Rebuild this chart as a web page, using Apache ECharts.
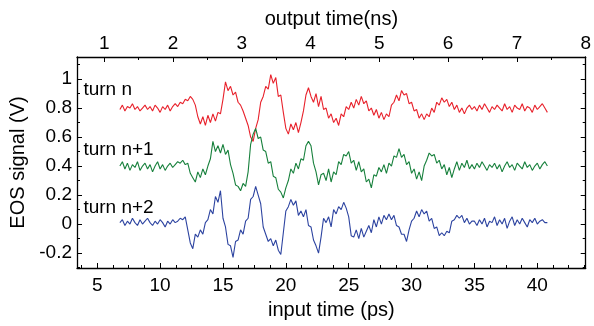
<!DOCTYPE html>
<html>
<head>
<meta charset="utf-8">
<script src="https://cdn.jsdelivr.net/npm/echarts@6/dist/echarts.min.js"></script>
<style>html,body{margin:0;padding:0;background:#fff}#c{width:594px;height:326px}</style>
</head>
<body>
<div id="c"></div>
<script>
// sampling grid of the traces (ps)
const tStart = 6.8;
const tStep = 0.2;

// turn n (V), from 6.8 ps to 40.8 ps
const turnN = [
  0.79,0.82,0.78,0.81,0.80,0.83,0.79,0.81,0.78,0.80,0.82,0.79,0.81,0.78,0.82,0.80,0.77,0.81,0.79,0.82,0.78,0.81,
  0.83,0.81,0.84,0.83,
  0.86,0.85,0.88,0.86,0.82,
  0.74,0.69,0.74,0.68,0.75,0.70,0.76,0.71,0.77,0.76,
  0.86,0.98,0.92,0.95,0.89,0.91,0.84,0.82,0.78,0.73,
  0.68,0.60,0.57,0.66,0.72,0.84,0.88,0.95,0.93,1.03,
  0.97,1.01,0.88,0.89,0.77,0.66,0.62,0.69,0.65,0.70,
  0.63,0.70,0.78,0.89,0.94,0.88,0.84,0.90,0.81,0.88,
  0.79,0.80,0.73,0.76,0.70,0.73,0.68,0.76,0.74,0.81,
  0.79,0.84,0.80,0.86,0.82,0.88,0.83,0.85,0.78,0.80,
  0.75,0.79,0.73,0.77,0.72,0.76,0.74,0.82,0.84,0.89,
  0.85,0.92,0.89,0.90,0.83,0.84,0.78,0.79,0.73,0.76,
  0.72,0.76,0.74,0.80,0.77,0.84,0.82,0.87,0.84,0.86,
  0.81,0.84,0.79,0.82,0.77,0.80,0.76,0.80,0.82,0.79,
  0.81,0.78,0.82,0.79,0.83,0.80,0.77,0.81,0.79,0.82,0.80,0.78,0.83,0.79,0.81,
  0.77,0.82,0.80,0.79,0.83,0.78,0.81,0.80,0.77,0.82,0.79,0.81,0.83,0.80,0.77
];

// turn n+1 (V)
const turnN1 = [
  0.40,0.43,0.38,0.42,0.37,0.41,0.39,0.43,0.37,0.40,0.42,0.38,0.41,0.36,0.40,0.43,0.38,0.41,0.37,0.40,0.42,0.39,0.41,0.43,0.42,
  0.44,0.41,0.42,0.35,0.32,0.29,0.36,0.32,0.38,0.34,
  0.40,0.45,0.57,0.50,0.54,0.49,0.55,0.48,0.51,0.41,
  0.35,0.27,0.26,0.23,0.28,0.26,0.36,0.55,0.62,0.66,
  0.59,0.60,0.51,0.50,0.42,0.43,0.33,0.32,0.24,0.22,
  0.18,0.25,0.30,0.38,0.35,0.42,0.38,0.45,0.44,0.54,
  0.57,0.54,0.42,0.36,0.27,0.34,0.35,0.30,0.38,0.29,
  0.36,0.34,0.43,0.41,0.48,0.47,0.50,0.42,0.44,0.37,
  0.43,0.36,0.38,0.29,0.31,0.25,0.34,0.33,0.39,0.36,
  0.41,0.35,0.42,0.40,0.47,0.46,0.52,0.46,0.48,0.41,
  0.43,0.35,0.38,0.31,0.36,0.30,0.40,0.44,0.49,0.47,
  0.48,0.42,0.44,0.38,0.41,0.34,0.39,0.32,0.38,0.43,
  0.37,0.42,0.39,0.44,0.38,0.41,
  0.38,0.42,0.39,0.43,0.40,0.37,0.41,0.39,0.42,0.38,0.41,0.36,0.40,0.43,0.39,
  0.41,0.37,0.42,0.40,0.38,0.43,0.39,0.41,0.37,0.40,0.42,0.38,0.41,0.43,0.40
];

// turn n+2 (V)
const turnN2 = [
  0.01,0.03,-0.01,0.02,0.00,0.04,0.01,-0.01,0.03,0.00,0.02,0.04,0.01,-0.01,0.02,0.00,0.03,0.01,-0.02,0.02,0.00,0.03,0.01,0.02,0.04,
  0.03,0.05,-0.04,-0.13,-0.17,-0.07,-0.09,-0.04,-0.07,0.01,
  0.03,0.10,0.07,0.19,0.15,0.23,0.04,-0.02,-0.14,-0.15,
  -0.23,-0.12,-0.11,-0.04,-0.07,0.02,0.04,0.17,0.19,0.26,
  0.20,0.14,-0.02,-0.07,-0.12,-0.10,-0.15,-0.11,-0.18,-0.21,
  -0.06,0.09,0.12,0.17,0.13,0.16,0.06,0.09,0.05,0.10,
  -0.01,-0.02,-0.11,-0.15,-0.20,-0.09,0.04,0.01,0.05,-0.02,
  0.10,0.07,0.12,0.10,0.15,0.11,0.05,-0.08,-0.09,-0.04,
  -0.10,-0.03,-0.09,-0.05,-0.01,-0.06,0.03,-0.02,0.05,0.00,
  0.06,0.03,0.07,0.03,0.06,-0.01,-0.02,-0.07,-0.07,-0.12,
  -0.04,0.02,0.04,0.09,0.05,0.10,0.07,0.09,0.02,0.04,
  -0.03,-0.02,-0.08,-0.06,-0.08,-0.05,-0.06,0.02,0.03,0.06,
  0.04,0.06,0.01,0.04,0.00,0.02,
  0.02,-0.01,0.03,0.00,0.04,-0.02,0.02,0.01,0.05,-0.01,0.03,0.00,0.04,-0.03,0.02,
  0.05,-0.01,0.03,0.00,0.04,0.01,-0.02,0.03,0.01,0.04,0.00,0.02,0.03,0.01,0.01
];

const seriesNames = ['turn n', 'turn n+1', 'turn n+2'];
const seriesColors = ['#e8212b', '#17803c', '#2c43a0'];
const labelAnchors = [[3.9, 0.925], [3.9, 0.51], [3.9, 0.11]];

const xRange = [3.39, 43.85];     // input time (ps)
const topRange = [0.605, 8];      // output time (ns)
const yRange = [-0.303, 1.152];   // EOS signal (V)

const FONT = 'Liberation Sans, Arial, sans-serif';
const FS = 19;   // tick labels & annotations
const FN = 20;   // axis names

function pairs(vals) {
  return vals.map((v, i) => [+(tStart + i * tStep).toFixed(2), v]);
}

const axisLine = { show: true, onZero: false, lineStyle: { color: '#000', width: 1.3 } };
const tick = { show: true, inside: true, length: 5, lineStyle: { color: '#000', width: 1 } };
const minor = n => ({ show: true, splitNumber: n, length: 3, lineStyle: { color: '#000', width: 1 } });

const chart = echarts.init(document.getElementById('c'), null, { renderer: 'canvas' });
chart.setOption({
  animation: false,
  backgroundColor: '#fff',
  grid: { left: 77, right: 3, top: 57, bottom: 58, containLabel: false },
  xAxis: [
    {
      type: 'value', position: 'bottom', min: xRange[0], max: xRange[1], splitNumber: 8,
      name: 'input time (ps)', nameLocation: 'middle', nameGap: 32,
      nameTextStyle: { fontFamily: FONT, fontSize: FN, color: '#000' },
      axisLine, axisTick: tick, minorTick: minor(4),
      splitLine: { show: false },
      axisLabel: { fontFamily: FONT, fontSize: FS, color: '#000', margin: 8,
        formatter: v => (Math.abs(v / 5 - Math.round(v / 5)) < 1e-6 ? String(v) : '') }
    },
    {
      type: 'value', position: 'top', min: topRange[0], max: topRange[1], splitNumber: 7,
      name: 'output time(ns)', nameLocation: 'middle', nameGap: 28,
      nameTextStyle: { fontFamily: FONT, fontSize: FN, color: '#000' },
      axisLine, axisTick: tick, minorTick: minor(2),
      splitLine: { show: false },
      axisLabel: { fontFamily: FONT, fontSize: FS, color: '#000', margin: 4,
        formatter: v => (Math.abs(v - Math.round(v)) < 1e-6 ? String(v) : '') }
    }
  ],
  yAxis: [
    {
      type: 'value', position: 'left', min: yRange[0], max: yRange[1], splitNumber: 7,
      name: 'EOS signal (V)', nameLocation: 'middle', nameGap: 47, nameRotate: 90,
      nameTextStyle: { fontFamily: FONT, fontSize: FN, color: '#000' },
      axisLine, axisTick: tick, minorTick: minor(2),
      splitLine: { show: false },
      axisLabel: { fontFamily: FONT, fontSize: FS, color: '#000', margin: 5,
        formatter: v => {
          const k = v / 0.2;
          if (Math.abs(k - Math.round(k)) > 1e-6) return '';
          return String(+(Math.round(k) * 0.2).toFixed(1));
        } }
    },
    {
      type: 'value', position: 'right', min: yRange[0], max: yRange[1], splitNumber: 7,
      axisLine, axisTick: tick, minorTick: minor(2),
      splitLine: { show: false },
      axisLabel: { show: false }
    }
  ],
  series: [turnN, turnN1, turnN2].map((vals, k) => ({
    type: 'line',
    name: seriesNames[k],
    xAxisIndex: 0, yAxisIndex: 0,
    data: pairs(vals),
    showSymbol: false,
    symbol: 'none',
    lineStyle: { color: seriesColors[k], width: 1.1 },
    itemStyle: { color: seriesColors[k] },
    markPoint: {
      symbol: 'circle', symbolSize: 0, silent: true,
      data: [{ coord: labelAnchors[k] }],
      label: { show: true, position: 'right', distance: 0, formatter: seriesNames[k],
        fontFamily: FONT, fontSize: FS, color: '#000' }
    }
  }))
});
</script>
</body>
</html>
